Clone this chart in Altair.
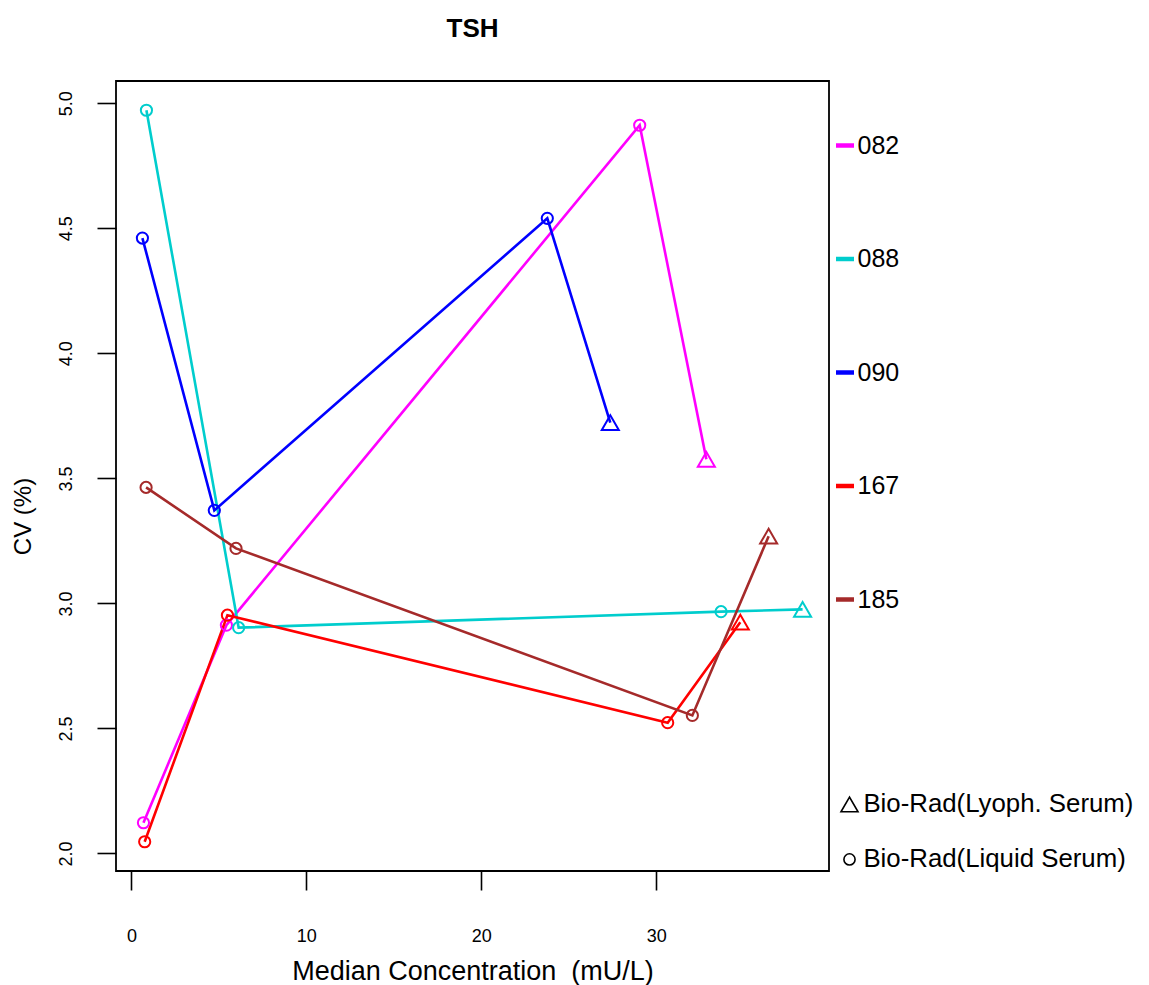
import altair as alt
import pandas as pd

FONT = "Liberation Sans"

series = ["082", "088", "090", "167", "185"]
colors = ["#FF00FF", "#00CDCD", "#0000FF", "#FF0000", "#A52A2A"]
sample_types = ["Bio-Rad(Lyoph. Serum)", "Bio-Rad(Liquid Serum)"]
point_type = ["Bio-Rad(Liquid Serum)", "Bio-Rad(Liquid Serum)",
              "Bio-Rad(Liquid Serum)", "Bio-Rad(Lyoph. Serum)"]

x082 = [0.69, 5.43, 29.05, 32.86]
y082 = [2.123, 2.913, 4.912, 3.576]
x088 = [0.86, 6.13, 33.70, 38.36]
y088 = [4.972, 2.903, 2.967, 2.976]
x090 = [0.63, 4.74, 23.77, 27.37]
y090 = [4.461, 3.372, 4.540, 3.723]
x167 = [0.76, 5.49, 30.65, 34.80]
y167 = [2.047, 2.953, 2.523, 2.925]
x185 = [0.84, 5.98, 32.06, 36.42]
y185 = [3.464, 3.220, 2.552, 3.269]

xs = [x082, x088, x090, x167, x185]
ys = [y082, y088, y090, y167, y185]

rows = []
for s, xv, yv in zip(series, xs, ys):
    for i, (a, b) in enumerate(zip(xv, yv)):
        rows.append({"lab": s, "conc": a, "cv": b, "type": point_type[i], "idx": i})
df = pd.DataFrame(rows)

# R-style 4% axis extension
xmin, xmax = df.conc.min(), df.conc.max()
ymin, ymax = df.cv.min(), df.cv.max()
xr, yr = xmax - xmin, ymax - ymin
xdom = [xmin - 0.04 * xr, xmax + 0.04 * xr]
ydom = [ymin - 0.04 * yr, ymax + 0.04 * yr]

x_ticks = [0, 10, 20, 30]
y_ticks = [2.0, 2.5, 3.0, 3.5, 4.0, 4.5, 5.0]

xenc = alt.X("conc:Q", scale=alt.Scale(domain=xdom, nice=False, zero=False),
             axis=alt.Axis(values=x_ticks, grid=False, domain=False, tickSize=19,
                           tickWidth=1.6, tickColor="black", labelFontSize=18,
                           labelFont=FONT, labelColor="black", labelPadding=51,
                           labelBaseline="alphabetic", labelFlush=False,
                           title="Median Concentration\u00a0 (mU/L)", titleFont=FONT,
                           titleFontSize=27, titleFontWeight="normal", titleColor="black",
                           titleBaseline="alphabetic", titleY=108))
yenc = alt.Y("cv:Q", scale=alt.Scale(domain=ydom, nice=False, zero=False),
             axis=alt.Axis(values=y_ticks, format=".1f", grid=False, domain=False,
                           tickSize=19, tickWidth=1.6, tickColor="black",
                           labelFontSize=18, labelFont=FONT, labelColor="black",
                           labelAngle=270, labelAlign="center", labelBaseline="alphabetic",
                           labelPadding=26, labelFlush=False,
                           title="CV (%)", titleFont=FONT, titleFontSize=24,
                           titleFontWeight="normal", titleColor="black",
                           titleAngle=270, titleBaseline="alphabetic", titleAlign="center",
                           titleX=-86, titleY=435))

color_enc = alt.Color("lab:N", scale=alt.Scale(domain=series, range=colors),
                      legend=alt.Legend(title=None, orient="none", legendX=716.5, legendY=52,
                                        symbolType="stroke", symbolSize=324,
                                        symbolStrokeWidth=4.5, labelFontSize=25,
                                        labelFont=FONT, labelColor="black",
                                        rowPadding=87.5, labelOffset=0, padding=0))

lines = alt.Chart(df).mark_line(strokeWidth=2.6).encode(
    x=xenc, y=yenc, color=color_enc, order="idx:Q")

shape_legend = alt.Legend(title=None, orient="none", legendX=720.6, legendY=710.5,
                          labelFontSize=25.8, labelFont=FONT, labelColor="black",
                          labelLimit=500, rowPadding=28, labelOffset=1, padding=0,
                          symbolStrokeColor="black", symbolFillColor="transparent",
                          symbolStrokeWidth=1.6)

points = alt.Chart(df).mark_point(filled=False, strokeWidth=2, opacity=1).encode(
    x=xenc, y=yenc,
    color=alt.Color("lab:N", scale=alt.Scale(domain=series, range=colors), legend=None),
    shape=alt.Shape("type:O", scale=alt.Scale(domain=sample_types,
                                              range=["triangle-up", "circle"]),
                    legend=shape_legend),
    size=alt.Size("type:O", scale=alt.Scale(domain=sample_types, range=[290, 125]),
                  legend=shape_legend),
)

chart = alt.layer(lines, points).properties(
    width=713, height=790,
    background="white",
    autosize=alt.AutoSizeParams(type="none"),
    padding={"left": 108, "top": 73, "right": 311, "bottom": 114},
    title=alt.TitleParams("TSH", fontSize=26, fontWeight="bold", font=FONT,
                          color="black", anchor="middle", frame="group",
                          baseline="alphabetic", offset=18),
).configure_view(stroke="black", strokeWidth=1.8)

chart.save("out.html", embed_options={"renderer": "svg", "actions": False})
